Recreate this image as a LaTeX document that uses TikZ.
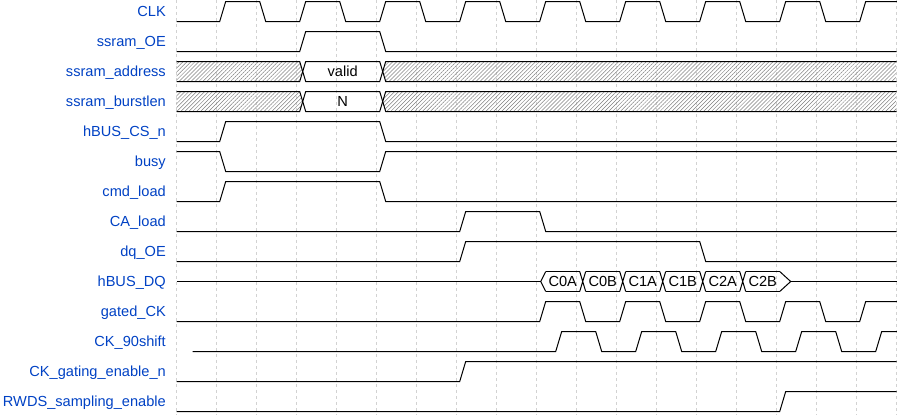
\documentclass[tikz,border=0pt]{standalone}
\usepackage{fontspec}
\setmainfont{Liberation Sans}
\usetikzlibrary{patterns.meta}
\definecolor{lblue}{HTML}{0041C4}
\newcommand\wfont{\fontsize{14.6pt}{16pt}\selectfont}
% clock: #1 high y, #2 low y, #3 first rising brick, #4 list of rising bricks, #5 x shift
\newcommand\clockwave[5]{%
  \draw[sig] ({176.7+#5},#2) -- ({176.7+40*#3+3+#5},#2)
    foreach \k in {#4} { -- ({176.7+40*\k+3+#5},#2) -- ({176.7+40*\k+9+#5},#1)
      -- ({176.7+40*\k+43+#5},#1) -- ({176.7+40*\k+49+#5},#2) };}
\begin{document}
\begin{tikzpicture}[x=1pt,y=-1pt,
  sig/.style={line width=1pt,black,line join=miter},
  gridline/.style={gray!35,line width=0.8pt,dash pattern=on 3pt off 3pt},
  lbl/.style={anchor=base east,text=lblue,font=\wfont,inner sep=0pt},
  dat/.style={anchor=base,text=black,font=\wfont,inner sep=0pt},
  hatch/.style={pattern={Lines[angle=45,distance=2.8pt,line width=0.5pt]},pattern color=gray}]
\useasboundingbox (0,0) rectangle (897,415);
% grid
\foreach \k in {0,...,18} \draw[gridline] ({176.7+40*\k},0) -- ({176.7+40*\k},415);
% labels
\node[lbl] (lclk) at (166,16.7) {CLK};
\node[lbl] (loe) at (166,46.7) {ssram\_OE};
\node[lbl] (laddr) at (166,76.7) {ssram\_address};
\node[lbl] (lburst) at (166,106.7) {ssram\_burstlen};
\node[lbl] (lcs) at (166,136.7) {hBUS\_CS\_n};
\node[lbl] (lbusy) at (166,166.7) {busy};
\node[lbl] (lcmd) at (166,196.7) {cmd\_load};
\node[lbl] (lca) at (166,226.7) {CA\_load};
\node[lbl] (ldqoe) at (166,256.7) {dq\_OE};
\node[lbl] (ldq) at (166,286.7) {hBUS\_DQ};
\node[lbl] (lgck) at (166,316.7) {gated\_CK};
\node[lbl] (lck90) at (166,346.7) {CK\_90shift};
\node[lbl] (lgate) at (166,376.7) {CK\_gating\_enable\_n};
\node[lbl] (lrwds) at (166,406.7) {RWDS\_sampling\_enable};
\begin{scope}
\clip (176,-10) rectangle (897,425);
% CLK
\clockwave{1.5}{21.5}{1}{1,3,...,17}{0}
% ssram_OE
\draw[sig] (176.7,51.5) -- (299.7,51.5) -- (305.7,31.5) -- (379.7,31.5) -- (385.7,51.5) -- (896.7,51.5);
% ssram_address
\fill[hatch] (176.7,61.5) -- (299.7,61.5) -- (302.7,71.5) -- (299.7,81.5) -- (176.7,81.5) -- cycle;
\fill[hatch] (382.7,71.5) -- (385.7,61.5) -- (896.7,61.5) -- (896.7,81.5) -- (385.7,81.5) -- cycle;
\draw[sig] (176.7,61.5) -- (299.7,61.5) -- (305.7,81.5) -- (379.7,81.5) -- (385.7,61.5) -- (896.7,61.5);
\draw[sig] (176.7,81.5) -- (299.7,81.5) -- (305.7,61.5) -- (379.7,61.5) -- (385.7,81.5) -- (896.7,81.5);
\node[dat] (tvalid) at (342.7,76.7) {valid};
% ssram_burstlen
\fill[hatch] (176.7,91.5) -- (299.7,91.5) -- (302.7,101.5) -- (299.7,111.5) -- (176.7,111.5) -- cycle;
\fill[hatch] (382.7,101.5) -- (385.7,91.5) -- (896.7,91.5) -- (896.7,111.5) -- (385.7,111.5) -- cycle;
\draw[sig] (176.7,91.5) -- (299.7,91.5) -- (305.7,111.5) -- (379.7,111.5) -- (385.7,91.5) -- (896.7,91.5);
\draw[sig] (176.7,111.5) -- (299.7,111.5) -- (305.7,91.5) -- (379.7,91.5) -- (385.7,111.5) -- (896.7,111.5);
\node[dat] (tn) at (342.7,106.7) {N};
% hBUS_CS_n
\draw[sig] (176.7,141.5) -- (219.7,141.5) -- (225.7,121.5) -- (379.7,121.5) -- (385.7,141.5) -- (896.7,141.5);
% busy
\draw[sig] (176.7,151.5) -- (219.7,151.5) -- (225.7,171.5) -- (379.7,171.5) -- (385.7,151.5) -- (896.7,151.5);
% cmd_load
\draw[sig] (176.7,201.5) -- (219.7,201.5) -- (225.7,181.5) -- (379.7,181.5) -- (385.7,201.5) -- (896.7,201.5);
% CA_load
\draw[sig] (176.7,231.5) -- (459.7,231.5) -- (465.7,211.5) -- (539.7,211.5) -- (545.7,231.5) -- (896.7,231.5);
% dq_OE
\draw[sig] (176.7,261.5) -- (459.7,261.5) -- (465.7,241.5) -- (699.7,241.5) -- (705.7,261.5) -- (896.7,261.5);
% hBUS_DQ
\draw[sig] (176.7,281.5) -- (540.7,281.5);
\draw[sig] (545.7,271.5) -- (540.7,281.5) -- (545.7,291.5);
\foreach \k in {9,...,14} {
  \draw[sig] ({176.7+40*\k+9},271.5) -- ({176.7+40*\k+43},271.5)
             ({176.7+40*\k+9},291.5) -- ({176.7+40*\k+43},291.5);}
\foreach \k in {10,...,14} {
  \draw[sig] ({176.7+40*\k+3},271.5) -- ({176.7+40*\k+9},291.5)
             ({176.7+40*\k+3},291.5) -- ({176.7+40*\k+9},271.5);}
\draw[sig] (779.7,271.5) -- (790.7,281.5) -- (779.7,291.5);
\draw[sig] (790.7,281.5) -- (896.7,281.5);
\node[dat] (tc0a) at ({176.7+40*9+26},286.7) {C0A};
\node[dat] (tc0b) at ({176.7+40*10+26},286.7) {C0B};
\node[dat] (tc1a) at ({176.7+40*11+26},286.7) {C1A};
\node[dat] (tc1b) at ({176.7+40*12+26},286.7) {C1B};
\node[dat] (tc2a) at ({176.7+40*13+26},286.7) {C2A};
\node[dat] (tc2b) at ({176.7+40*14+26},286.7) {C2B};
% gated_CK
\clockwave{301.5}{321.5}{9}{9,11,...,17}{0}
% CK_90shift
\clockwave{331.5}{351.5}{9}{9,11,...,17}{16}
% CK_gating_enable_n
\draw[sig] (176.7,381.5) -- (459.7,381.5) -- (465.7,361.5) -- (896.7,361.5);
% RWDS_sampling_enable
\draw[sig] (176.7,411.5) -- (779.7,411.5) -- (785.7,391.5) -- (896.7,391.5);
\end{scope}
\end{tikzpicture}
\end{document}
